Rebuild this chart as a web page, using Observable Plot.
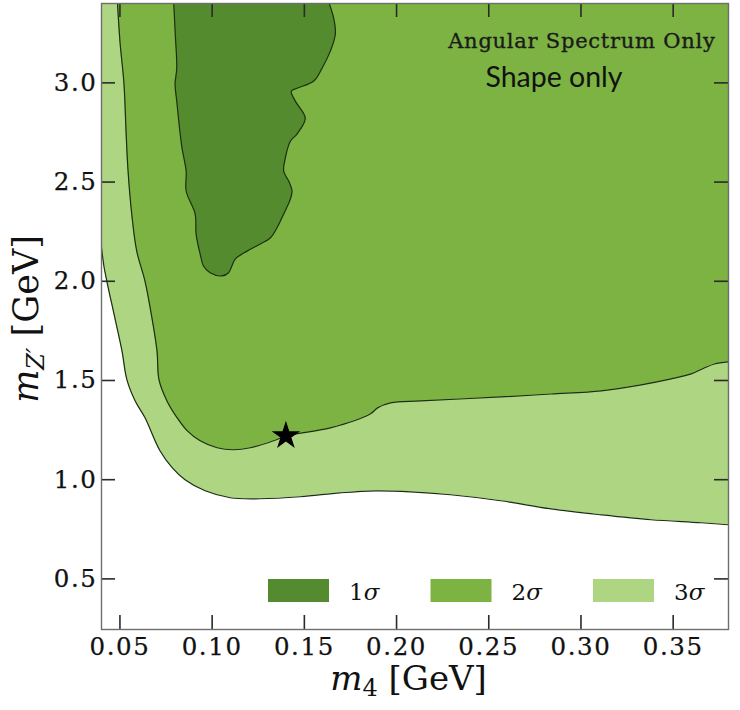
<!DOCTYPE html>
<html>
<head>
<meta charset="utf-8">
<script src="https://cdn.jsdelivr.net/npm/d3@7"></script>
<script src="https://cdn.jsdelivr.net/npm/@observablehq/plot@0.6"></script>
<style>
  html, body { margin: 0; padding: 0; background: #fff; }
  #chart { width: 740px; height: 710px; }
  .ticklab text { font-family: "DejaVu Serif" !important; font-size: 24.5px !important; letter-spacing: 1.6px; stroke: #111; stroke-width: 0.25px; }
</style>
</head>
<body>
<div id="chart"></div>
<script>
// ---- data ----
const xTicks = [0.05, 0.10, 0.15, 0.20, 0.25, 0.30, 0.35];
const yTicks = [0.5, 1.0, 1.5, 2.0, 2.5, 3.0];
const levels = ["1σ", "2σ", "3σ"];
const levelColors = ["#558b2f", "#7cb342", "#aed581"];

// 3σ lower/left boundary (m4 [GeV], mZ' [GeV])
const contour3 = [
  [0.0395, 2.21], [0.0413, 2.077], [0.0429, 2.0], [0.0473, 1.813], [0.0511, 1.649],
  [0.0538, 1.503], [0.0582, 1.398], [0.0636, 1.312], [0.0717, 1.146], [0.0783, 1.061],
  [0.0853, 1.0], [0.0962, 0.944], [0.1098, 0.909], [0.126, 0.904], [0.1478, 0.914],
  [0.1696, 0.934], [0.1886, 0.944], [0.2076, 0.939], [0.2293, 0.924], [0.2565, 0.894],
  [0.2837, 0.853], [0.3109, 0.823], [0.338, 0.798], [0.3652, 0.783], [0.381, 0.772]
];

// 2σ lower/left boundary
const contour2 = [
  [0.0485, 3.43], [0.05, 3.21], [0.0522, 2.993], [0.0533, 2.757], [0.0543, 2.57],
  [0.0564, 2.339], [0.0591, 2.152], [0.0636, 2.0], [0.0674, 1.813], [0.0701, 1.649],
  [0.0712, 1.503], [0.0755, 1.397], [0.081, 1.312], [0.0864, 1.247], [0.0935, 1.196],
  [0.1027, 1.161], [0.1114, 1.151], [0.1207, 1.161], [0.1332, 1.196], [0.1402, 1.221],
  [0.1641, 1.261], [0.1859, 1.332], [0.1897, 1.362], [0.1967, 1.387], [0.213, 1.397],
  [0.2565, 1.417], [0.2837, 1.432], [0.3109, 1.448], [0.3326, 1.478], [0.3489, 1.508],
  [0.3598, 1.533], [0.3668, 1.563], [0.3723, 1.583], [0.381, 1.595]
];

// 1σ island (left side downward, then right side upward)
const contour1 = [
  [0.079, 3.43], [0.080, 3.245], [0.0808, 3.074], [0.0799, 2.994], [0.0808, 2.908],
  [0.0835, 2.681], [0.0859, 2.555], [0.0859, 2.455], [0.0908, 2.339], [0.0913, 2.238],
  [0.0935, 2.137], [0.0953, 2.077], [0.0989, 2.043], [0.1053, 2.027], [0.1089, 2.043],
  [0.1107, 2.077], [0.1125, 2.112], [0.1189, 2.152], [0.1261, 2.188], [0.1315, 2.218],
  [0.1352, 2.27], [0.1388, 2.339], [0.1424, 2.414], [0.1433, 2.455], [0.1415, 2.505],
  [0.1388, 2.555], [0.1397, 2.622], [0.1424, 2.706], [0.146, 2.742], [0.1505, 2.822],
  [0.1451, 2.908], [0.1429, 2.958], [0.146, 2.973], [0.1551, 3.009], [0.1596, 3.074],
  [0.1641, 3.16], [0.1668, 3.245], [0.1659, 3.326], [0.1623, 3.43]
];

const bestFit = [{m4: 0.140, mz: 1.221}];

const xDomain = [0.04, 0.38];
const yDomain = [0.245, 3.4];
const annotations = ["Angular Spectrum Only", "Shape only"];

// ---- chart ----
const W = 740, H = 710;
const mT = 3, mR = 12, mB = 81, mL = 101;
const innerW = W - mL - mR, innerH = H - mT - mB;
const tickLen = 14;
const edgeColor = "#1c2e12";
const topY = 3.6;
const px = d => d[0], py = d => d[1];
const serif = "DejaVu Serif";

const chart = Plot.plot({
  width: W, height: H,
  marginTop: mT, marginRight: mR, marginBottom: mB, marginLeft: mL,
  x: {domain: xDomain, label: null},
  y: {domain: yDomain, label: null},
  style: {fontFamily: serif, color: "#111", background: "white", overflow: "visible"},
  marks: [
    Plot.areaY(contour3, {x: px, y1: py, y2: () => topY, fill: levelColors[2], curve: "catmull-rom", clip: true}),
    Plot.line(contour3, {x: px, y: py, stroke: edgeColor, strokeWidth: 1.2, curve: "catmull-rom", clip: true}),
    Plot.areaY(contour2, {x: px, y1: py, y2: () => topY, fill: levelColors[1], curve: "catmull-rom", clip: true}),
    Plot.line(contour2, {x: px, y: py, stroke: edgeColor, strokeWidth: 1.2, curve: "catmull-rom", clip: true}),
    Plot.line(contour1, {x: px, y: py, fill: levelColors[0], stroke: edgeColor, strokeWidth: 1.2, curve: "catmull-rom", clip: true}),
    Plot.dot(bestFit, {x: "m4", y: "mz", symbol: "star", r: 9, fill: "#000", stroke: "none"}),
    Plot.tickX(xTicks, {x: d => d, insetTop: innerH - tickLen, stroke: "#2a2a2a", strokeWidth: 1.6}),
    Plot.tickX(xTicks, {x: d => d, insetBottom: innerH - tickLen, stroke: "#2a2a2a", strokeWidth: 1.6}),
    Plot.tickY(yTicks, {y: d => d, insetRight: innerW - tickLen, stroke: "#2a2a2a", strokeWidth: 1.6}),
    Plot.tickY(yTicks, {y: d => d, insetLeft: innerW - tickLen, stroke: "#2a2a2a", strokeWidth: 1.6}),
    Plot.frame({stroke: "#6e6e6e", strokeWidth: 1.4}),
    Plot.axisX({ticks: xTicks, tickSize: 0, tickPadding: 8, tickFormat: d3.format(".2f"), label: null,
      fill: "#111", fontSize: 24.5, fontFamily: serif}),
    Plot.axisY({ticks: yTicks, tickSize: 0, tickPadding: 4, tickFormat: d3.format(".1f"), label: null,
      fill: "#111", fontSize: 24.5, fontFamily: serif}),
    Plot.text([annotations[0]], {text: d => d, frameAnchor: "top-right", dx: -13, dy: 38, textAnchor: "end", lineAnchor: "middle",
      fontFamily: serif, fontSize: 21, fill: "#1a1a1a", stroke: "#1a1a1a", strokeWidth: 0.35}),
    Plot.text([annotations[1]], {text: d => d, frameAnchor: "top-right", dx: -106, dy: 74, textAnchor: "end", lineAnchor: "middle",
      fontFamily: "Lato", fontSize: 28.5, fill: "#111"})
  ]
});

document.getElementById("chart").appendChild(chart);

const svg = d3.select(chart);
svg.selectAll("text").filter(function() { return this.textContent === annotations[0]; })
  .style("letter-spacing", "0.75px");

// tick labels: force the intended face and size
svg.selectAll("g[aria-label$='tick label']").classed("ticklab", true);

// ---- legend inside the frame ----
const lg = svg.append("g")
  .attr("font-family", serif).attr("font-size", 23).attr("fill", "#111").attr("text-anchor", "start");
levels.forEach((lv, i) => {
  const x0 = 268 + i * 162.5;
  lg.append("rect").attr("x", x0).attr("y", 579).attr("width", 61).attr("height", 23).attr("fill", levelColors[i]);
  const t = lg.append("text").attr("x", x0 + 81).attr("y", 600);
  t.append("tspan").text(lv.slice(0, 1));
  t.append("tspan").attr("font-style", "italic").text(lv.slice(1));
});

// ---- axis labels ----
const xl = svg.append("text")
  .attr("x", mL + innerW / 2 - 6).attr("y", 690)
  .attr("text-anchor", "middle")
  .attr("font-family", serif).attr("font-size", 34).attr("fill", "#111");
xl.append("tspan").attr("font-style", "italic").text("m");
xl.append("tspan").attr("font-size", 24).attr("dy", 6).text("4");
xl.append("tspan").attr("dy", -6).text(" [GeV]");

const yl = svg.append("text")
  .attr("transform", `translate(38,${mT + innerH / 2 + 3}) rotate(-90)`)
  .attr("text-anchor", "middle")
  .attr("font-family", serif).attr("font-size", 35).attr("fill", "#111");
yl.append("tspan").attr("font-style", "italic").text("m");
yl.append("tspan").attr("font-style", "italic").attr("font-size", 24).attr("dy", 6).text("Z′");
yl.append("tspan").attr("dy", -6).text(" [GeV]");
</script>
</body>
</html>
